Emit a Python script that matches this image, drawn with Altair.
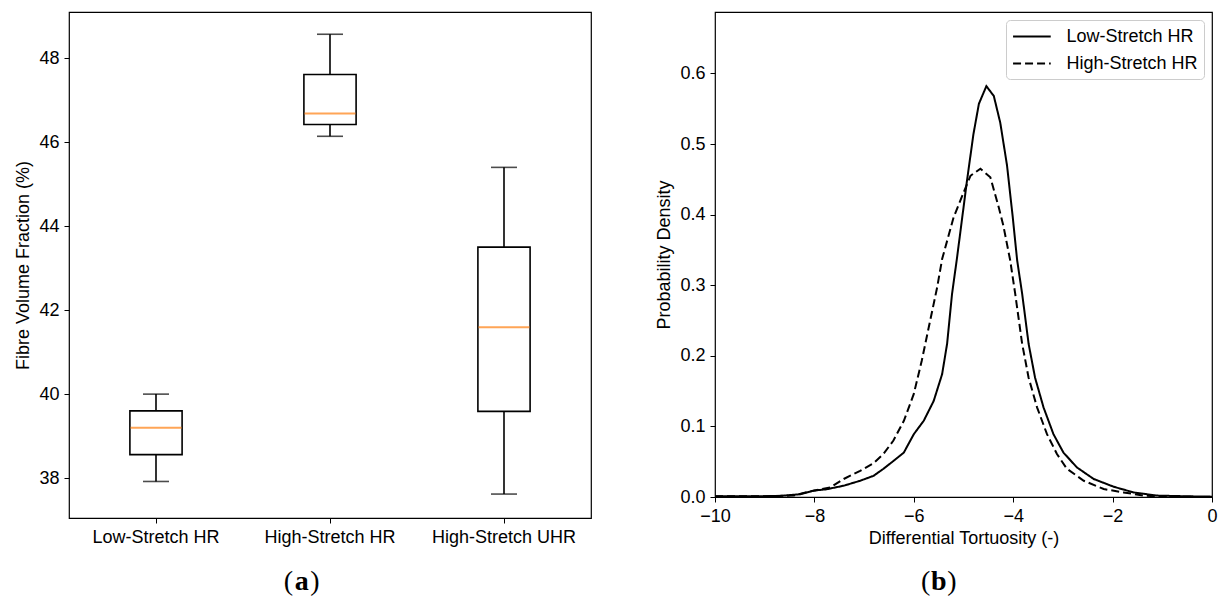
import altair as alt
import pandas as pd

# ---------------- data: panel (a) box plot ----------------
categories = ["Low-Stretch HR", "High-Stretch HR", "High-Stretch UHR"]
whisker_low = [37.92, 46.14, 37.62]
q1 = [38.56, 46.42, 39.59]
median = [39.20, 46.68, 41.59]
q3 = [39.60, 47.61, 43.50]
whisker_high = [40.00, 48.57, 45.40]

# ---------------- data: panel (b) density curves ----------------
low_x = [-10.0, -9.5, -9.1, -8.69, -8.28, -8.02, -7.75, -7.41, -7.08, -6.81, -6.61,
         -6.41, -6.2, -6.0, -5.8, -5.6, -5.43, -5.33, -5.23, -5.13, -4.93, -4.80,
         -4.69, -4.54, -4.39, -4.26, -4.125, -4.01, -3.92, -3.82, -3.69, -3.56,
         -3.39, -3.19, -2.99, -2.72, -2.38, -1.98, -1.58, -1.11, -0.5, 0.0]
low_y = [0.001, 0.001, 0.001, 0.0015, 0.004, 0.009, 0.011, 0.016, 0.023, 0.030, 0.040,
         0.051, 0.063, 0.089, 0.108, 0.136, 0.174, 0.217, 0.288, 0.339, 0.448, 0.514,
         0.557, 0.582, 0.568, 0.530, 0.470, 0.397, 0.335, 0.288, 0.217, 0.169,
         0.127, 0.089, 0.063, 0.042, 0.0255, 0.0146, 0.0065, 0.002, 0.001, 0.0005]
high_x = [-10.0, -9.1, -8.42, -8.02, -7.68, -7.41, -7.08, -6.81, -6.61, -6.41, -6.2,
          -6.0, -5.84, -5.70, -5.53, -5.43, -5.2, -5.0, -4.86, -4.66, -4.46, -4.29,
          -4.2, -4.06, -3.96, -3.82, -3.69, -3.52, -3.32, -3.12, -2.92, -2.58,
          -2.18, -1.78, -1.38, -1.0, 0.0]
high_y = [0.001, 0.001, 0.002, 0.009, 0.0136, 0.0255, 0.037, 0.048, 0.061, 0.080, 0.108,
          0.146, 0.193, 0.240, 0.297, 0.337, 0.396, 0.431, 0.455, 0.465, 0.453, 0.410,
          0.385, 0.335, 0.288, 0.217, 0.169, 0.127, 0.089, 0.061, 0.040, 0.023,
          0.0113, 0.0065, 0.002, 0.0005, 0.0]
series_names = ["Low-Stretch HR", "High-Stretch HR"]

y_ticks_a = [38, 40, 42, 44, 46, 48]
y_ticks_b = [0.0, 0.1, 0.2, 0.3, 0.4, 0.5, 0.6]
x_ticks_b = [-10, -8, -6, -4, -2, 0]

SANS = "Liberation Sans"
SERIF = "Liberation Serif"
FS = 18

box_df = pd.DataFrame({
    "cat": categories, "lo": whisker_low, "q1": q1, "med": median,
    "q3": q3, "hi": whisker_high,
})

dens_df = pd.concat([
    pd.DataFrame({"x": low_x, "y": low_y, "series": series_names[0]}),
    pd.DataFrame({"x": high_x, "y": high_y, "series": series_names[1]}),
], ignore_index=True)

WA, HA = 522, 506
WB, HB = 497, 485

x_a = alt.X("cat:N", sort=categories, title=None,
            scale=alt.Scale(paddingInner=0.7, paddingOuter=0.35),
            axis=alt.Axis(labelAngle=0, labelPadding=5, tickSize=5))
y_scale_a = alt.Scale(domain=[37.05, 49.1], nice=False, zero=False)
y_axis_a = alt.Axis(values=y_ticks_a, tickSize=5, labelPadding=5, titlePadding=6)

base_a = alt.Chart(box_df)
whisk = base_a.mark_rule(color="black", strokeWidth=1.6).encode(
    x=x_a,
    y=alt.Y("lo:Q", scale=y_scale_a, axis=y_axis_a, title="Fibre Volume Fraction (%)"),
    y2="hi:Q",
)
box = base_a.mark_bar(fill="white", stroke="black", strokeWidth=1.6).encode(
    x=x_a, y=alt.Y("q1:Q", scale=y_scale_a), y2="q3:Q",
)
med = base_a.mark_tick(color="#ff7f0e", thickness=2, size=51).encode(
    x=x_a, y=alt.Y("med:Q", scale=y_scale_a),
)
cap_lo = base_a.mark_tick(color="black", thickness=1.6, size=26).encode(
    x=x_a, y=alt.Y("lo:Q", scale=y_scale_a),
)
cap_hi = base_a.mark_tick(color="black", thickness=1.6, size=26).encode(
    x=x_a, y=alt.Y("hi:Q", scale=y_scale_a),
)


def panel_label(letter, cx, cy):
    df = pd.DataFrame({"letter": [letter]})
    b = alt.Chart(df)
    lp = b.mark_text(text="(", font=SERIF, fontSize=28, align="right",
                     baseline="alphabetic", dx=-8.5, color="black").encode(
        x=alt.value(cx), y=alt.value(cy))
    mid = b.mark_text(font=SERIF, fontSize=28, fontWeight="bold", align="center",
                      baseline="alphabetic", color="black").encode(
        x=alt.value(cx), y=alt.value(cy), text="letter:N")
    rp = b.mark_text(text=")", font=SERIF, fontSize=28, align="left",
                     baseline="alphabetic", dx=8.5, color="black").encode(
        x=alt.value(cx), y=alt.value(cy))
    return [lp, mid, rp]


panel_a = alt.layer(whisk, box, med, cap_lo, cap_hi,
                    *panel_label("a", 232.7, 578)).properties(width=WA, height=HA)

line = alt.Chart(dens_df).mark_line(color="black", strokeWidth=2).encode(
    x=alt.X("x:Q", title="Differential Tortuosity (-)",
            scale=alt.Scale(domain=[-10, 0], nice=False),
            axis=alt.Axis(values=x_ticks_b, labelFlush=False, tickSize=5,
                          labelPadding=5, titlePadding=4)),
    y=alt.Y("y:Q", title="Probability Density",
            scale=alt.Scale(domain=[0, 0.687], nice=False),
            axis=alt.Axis(values=y_ticks_b, format=".1f", tickSize=5,
                          labelPadding=5, titlePadding=6)),
    strokeDash=alt.StrokeDash(
        "series:N",
        scale=alt.Scale(domain=series_names, range=[[1, 0], [8, 4]]),
        sort=series_names,
        legend=alt.Legend(
            title=None, orient="top-right", offset=8, symbolType="M-2,0L2,0",
            symbolStrokeColor="black", symbolStrokeWidth=2, symbolSize=355,
            symbolOffset=9.4,
            labelFont=SANS, labelFontSize=FS, labelColor="black", labelOffset=24,
            padding=6, rowPadding=7, fillColor="white", strokeColor="#cccccc",
            cornerRadius=4,
        ),
    ),
    order=alt.Order("x:Q"),
)

panel_b = alt.layer(line, *panel_label("b", 223.8, 578)).properties(width=WB, height=HB)

chart = alt.hconcat(panel_a, panel_b, spacing=63).resolve_legend(
    strokeDash="independent"
).properties(
    padding={"left": 14, "top": 11, "right": 0, "bottom": 0}
).configure_axis(
    labelFont=SANS, labelFontSize=FS, labelColor="black",
    titleFont=SANS, titleFontSize=FS, titleFontWeight="normal", titleColor="black",
    tickColor="black", tickWidth=1, domain=False, grid=False,
).configure_view(stroke="black", strokeWidth=1.2).configure_legend(
    labelLimit=300
)

chart.save("out.html", embed_options={"renderer": "svg", "actions": False})
